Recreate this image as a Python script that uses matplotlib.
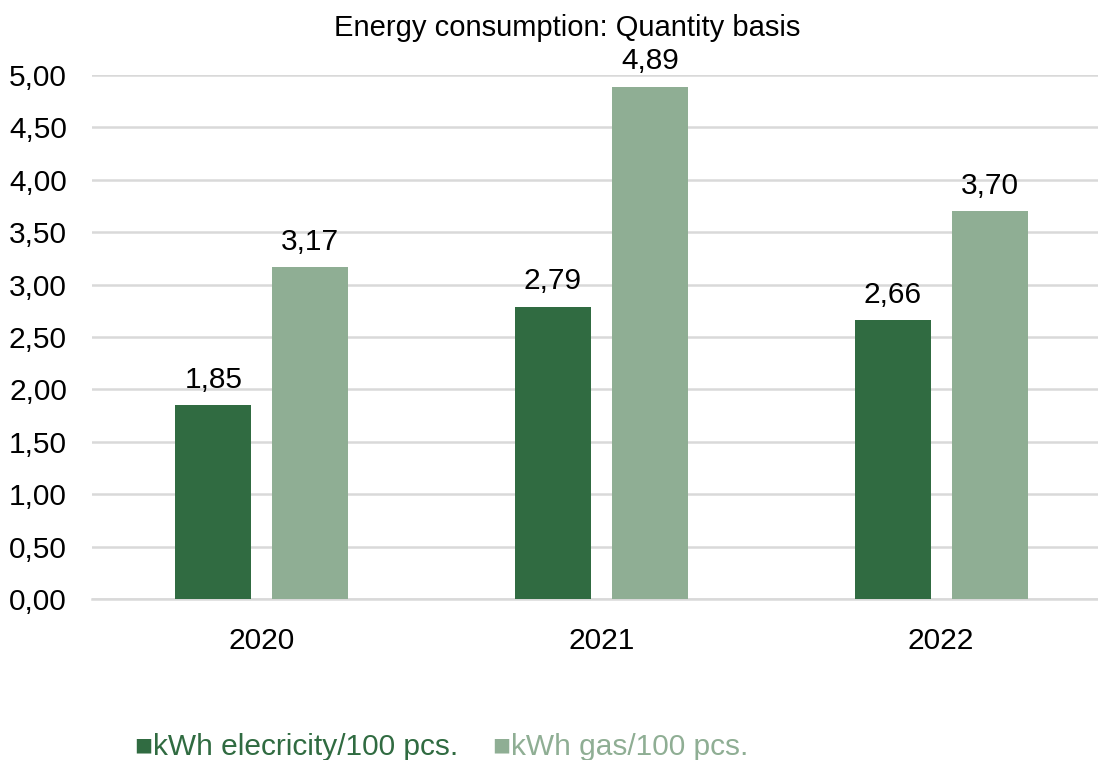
import numpy as np
import matplotlib
matplotlib.use("Agg")
import matplotlib.pyplot as plt

plt.rcParams['font.family'] = ['Liberation Sans', 'DejaVu Sans']

years = ['2020', '2021', '2022']
electricity = [1.85, 2.79, 2.66]
gas = [3.17, 4.89, 3.70]
yticks = [0, 0.5, 1.0, 1.5, 2.0, 2.5, 3.0, 3.5, 4.0, 4.5, 5.0]

dark = '#306b41'
light = '#8fae94'
grid = '#d9d9d9'
fs = 21.5

W, H = 1098, 760
fig = plt.figure(figsize=(W / 100, H / 100), dpi=100)
ax = fig.add_axes([92 / W, 1 - 599 / H, (1111 - 92) / W, 524 / H])

x = np.arange(len(years))
bw = 0.224
off = 0.143
b1 = ax.bar(x - off, electricity, bw, color=dark, zorder=3)
b2 = ax.bar(x + off, gas, bw, color=light, zorder=3)

fmt = lambda v: f"{v:.2f}".replace('.', ',')
for bars, vals in ((b1, electricity), (b2, gas)):
    ax.bar_label(bars, labels=[fmt(v) for v in vals], padding=8, fontsize=fs)

ax.set_xlim(-0.5, 2.5)
ax.set_ylim(0, 5)
ax.set_yticks(yticks)
ax.set_yticklabels([fmt(v) for v in yticks])
ax.set_xticks(x)
ax.set_xticklabels(years)
ax.tick_params(axis='both', length=0, labelsize=fs)
ax.tick_params(axis='y', pad=18)
ax.tick_params(axis='x', pad=20)
ax.yaxis.grid(True, color=grid, linewidth=1.8, zorder=0)
for s in ('top', 'right', 'left'):
    ax.spines[s].set_visible(False)
ax.spines['bottom'].set_color(grid)
ax.spines['bottom'].set_linewidth(1.8)

fig.text(567 / W, 1 - 28 / H, 'Energy consumption: Quantity basis',
         ha='center', va='center', fontsize=21)

fig.text(135 / W, 1 - 747 / H, '\u25a0kWh elecricity/100 pcs.', color=dark,
         ha='left', va='center', fontsize=fs)
fig.text(493 / W, 1 - 747 / H, '\u25a0kWh gas/100 pcs.', color=light,
         ha='left', va='center', fontsize=fs)

fig.savefig('out.png', dpi=100)
